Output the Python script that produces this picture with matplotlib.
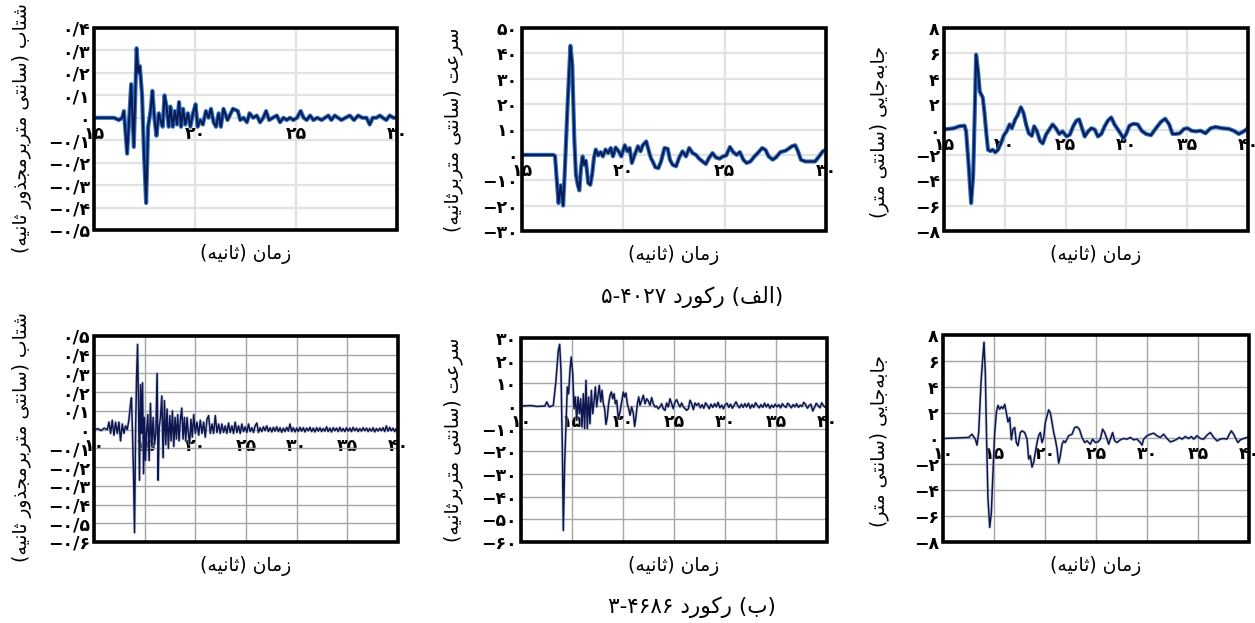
import matplotlib
matplotlib.use("Agg")
import matplotlib.pyplot as plt
from matplotlib.patches import Rectangle

# ---------------- data: (time [s], value) ----------------
acc_a = [(15.00, 0.00), (15.99, 0.00), (16.23, -0.01), (16.40, 0.00), (16.48, 0.03), (16.64, -0.16),
         (16.84, 0.15), (16.97, -0.13), (17.11, 0.31), (17.19, 0.20), (17.27, 0.23), (17.38, 0.10),
         (17.47, -0.15), (17.58, -0.38), (17.68, -0.04), (17.80, 0.03), (17.89, 0.12), (17.99, 0.00),
         (18.09, -0.08), (18.21, 0.02), (18.29, -0.01), (18.40, -0.04), (18.49, 0.10), (18.59, 0.05),
         (18.70, -0.04), (18.78, 0.05), (18.90, -0.04), (19.00, 0.03), (19.11, -0.03), (19.21, 0.07),
         (19.31, -0.04), (19.41, 0.04), (19.52, -0.03), (19.65, 0.02), (19.77, -0.04), (19.90, 0.02),
         (20.03, 0.06), (20.13, -0.04), (20.26, -0.01), (20.39, -0.03), (20.54, 0.03), (20.67, 0.00),
         (20.79, 0.04), (20.92, -0.02), (21.04, -0.04), (21.17, 0.02), (21.28, -0.04), (21.41, 0.04),
         (21.61, -0.01), (21.88, 0.04), (22.12, 0.03), (22.24, -0.01), (22.40, 0.00), (22.57, -0.02),
         (22.70, 0.02), (22.88, 0.00), (23.06, 0.01), (23.22, -0.02), (23.38, 0.00), (23.52, 0.03),
         (23.67, -0.01), (23.85, 0.00), (24.05, 0.01), (24.21, -0.02), (24.38, 0.00), (24.54, -0.01),
         (24.70, 0.00), (24.87, -0.01), (25.05, 0.00), (25.23, 0.03), (25.38, 0.00), (25.53, -0.01),
         (25.70, 0.01), (25.86, -0.01), (26.05, 0.00), (26.27, -0.01), (26.43, 0.00), (26.60, 0.01),
         (26.75, -0.01), (26.92, 0.01), (27.08, 0.00), (27.25, -0.01), (27.45, 0.00), (27.66, 0.01),
         (27.87, -0.01), (28.08, 0.01), (28.28, 0.00), (28.49, 0.00), (28.65, -0.03), (28.80, 0.00),
         (28.98, 0.00), (29.15, 0.01), (29.30, 0.00), (29.47, -0.01), (29.64, 0.01), (29.82, 0.00),
         (30.00, 0.00)]

vel_a = [(15.00, 0.0), (16.55, 0.0), (16.63, -0.5), (16.80, -19.0), (16.91, -12.0), (17.03, -20.0),
         (17.12, -5.0), (17.25, 20.0), (17.39, 43.0), (17.48, 35.5), (17.58, 6.6), (17.66, -7.8),
         (17.75, -11.8), (17.83, -14.0), (17.91, -5.2), (17.99, -0.6), (18.07, -3.9), (18.15, -2.3),
         (18.27, -11.1), (18.37, -11.8), (18.46, -7.8), (18.55, -1.2), (18.64, 2.1), (18.76, -0.2),
         (18.87, 1.1), (18.99, -0.6), (19.12, 2.1), (19.25, 0.7), (19.38, 2.7), (19.49, -0.6),
         (19.62, 2.9), (19.77, 1.4), (19.90, -0.6), (20.07, 3.8), (20.20, 1.4), (20.31, 2.7),
         (20.42, -3.2), (20.56, 0.0), (20.72, 3.4), (20.85, 1.4), (20.96, 3.8), (21.13, 5.3),
         (21.26, 1.4), (21.37, -1.5), (21.45, -2.6), (21.58, -4.9), (21.73, -5.2), (21.86, -2.6),
         (22.03, 2.7), (22.19, 2.4), (22.30, -1.9), (22.43, -3.9), (22.60, -4.5), (22.76, -1.0),
         (22.92, 1.4), (23.09, -0.6), (23.25, 2.7), (23.42, 0.7), (23.58, 0.0), (23.74, -1.5),
         (23.91, -2.6), (24.07, -3.6), (24.23, -1.2), (24.40, 0.7), (24.56, -1.0), (24.75, -1.5),
         (24.92, -0.6), (25.08, -0.2), (25.26, 3.1), (25.42, 1.1), (25.59, 0.0), (25.75, 1.1),
         (25.92, -1.9), (26.08, -3.2), (26.27, -2.6), (26.47, -0.6), (26.63, 0.7), (26.85, 2.7),
         (27.01, 2.0), (27.17, -0.6), (27.37, -1.9), (27.53, -1.0), (27.75, 1.1), (27.99, 1.6),
         (28.15, 2.4), (28.32, 3.4), (28.48, 3.8), (28.61, 1.6), (28.76, -1.9), (28.97, -2.6),
         (29.22, -2.6), (29.46, -2.6), (29.66, -0.6), (29.84, 1.4), (30.00, 2.0)]

disp_a = [(15.00, 0.00), (15.82, 0.10), (16.23, 0.25), (16.69, 0.30), (16.82, -0.15), (17.04, -3.00),
          (17.23, -5.80), (17.40, -3.60), (17.53, 1.40), (17.64, 5.90), (17.80, 4.60), (17.94, 3.00),
          (18.19, 2.50), (18.32, 1.40), (18.49, -0.40), (18.62, -1.60), (18.81, -1.70), (19.00, -1.60),
          (19.22, -1.80), (19.44, -1.60), (19.68, -1.10), (19.90, -0.50), (20.17, -0.10), (20.39, 0.40),
          (20.58, 0.10), (20.86, 0.80), (21.05, 1.10), (21.32, 1.75), (21.54, 1.30), (21.75, 0.40),
          (21.97, -0.30), (22.22, -0.50), (22.41, 0.25), (22.63, -0.10), (22.90, -0.90), (23.12, -1.10),
          (23.39, -0.40), (23.66, 0.00), (23.93, 0.40), (24.20, 0.10), (24.48, -0.35), (24.75, -0.15),
          (25.08, -0.55), (25.35, -0.40), (25.62, 0.25), (25.89, 0.70), (26.11, 0.80), (26.30, 0.25),
          (26.57, -0.55), (26.85, -0.15), (27.12, 0.10), (27.39, 0.00), (27.66, -0.55), (27.94, -0.35),
          (28.21, 0.25), (28.48, 0.70), (28.75, 0.95), (29.02, 0.40), (29.30, 0.00), (29.57, -0.40),
          (29.76, -0.70), (29.98, -0.35), (30.25, 0.30), (30.58, 0.45), (30.93, 0.40), (31.26, -0.10),
          (31.61, -0.35), (32.02, -0.45), (32.43, 0.10), (32.84, 0.60), (33.19, 0.85), (33.52, 0.40),
          (33.79, -0.35), (34.06, -0.35), (34.39, -0.30), (34.74, 0.05), (35.02, 0.10), (35.37, -0.10),
          (35.70, -0.15), (36.11, -0.10), (36.51, -0.30), (36.92, 0.10), (37.33, 0.20), (37.88, 0.10),
          (38.42, 0.05), (38.83, -0.10), (39.24, -0.35), (39.65, -0.15), (40.00, 0.10)]

acc_b = [(10.00, 0.000), (10.40, 0.005), (10.70, -0.005), (11.00, 0.008), (11.31, 0.000), (11.48, 0.040),
         (11.64, -0.020), (11.80, 0.050), (11.97, -0.030), (12.13, 0.040), (12.30, -0.020), (12.46, 0.040),
         (12.62, -0.060), (12.79, 0.030), (12.95, -0.020), (13.11, 0.020), (13.28, 0.000), (13.44, 0.050),
         (13.61, 0.140), (13.70, 0.170), (13.80, -0.020), (13.90, -0.240), (14.00, -0.550), (14.10, -0.020),
         (14.20, 0.280), (14.30, 0.455), (14.39, 0.150), (14.49, -0.270), (14.59, 0.240), (14.69, -0.020),
         (14.79, 0.250), (14.89, -0.235), (14.98, 0.065), (15.08, -0.165), (15.18, -0.020), (15.31, 0.080),
         (15.44, -0.165), (15.57, 0.140), (15.70, -0.090), (15.84, 0.065), (15.97, -0.080), (16.10, -0.020),
         (16.23, 0.300), (16.33, -0.270), (16.43, 0.010), (16.56, 0.065), (16.69, 0.180), (16.82, -0.150),
         (16.95, 0.155), (17.08, -0.080), (17.21, 0.110), (17.34, -0.100), (17.48, 0.075), (17.61, -0.060),
         (17.74, 0.100), (17.87, -0.090), (18.00, 0.065), (18.13, -0.050), (18.26, 0.080), (18.39, -0.060),
         (18.52, 0.050), (18.66, 0.115), (18.79, -0.050), (18.92, 0.065), (19.05, -0.060), (19.18, 0.065),
         (19.31, -0.020), (19.44, -0.075), (19.57, 0.055), (19.70, -0.040), (19.84, 0.080), (20.00, -0.020),
         (20.16, 0.040), (20.33, -0.030), (20.49, 0.050), (20.66, -0.020), (20.82, 0.040), (20.98, -0.040),
         (21.15, 0.055), (21.31, 0.075), (21.48, -0.020), (21.64, 0.030), (21.80, -0.020), (21.97, 0.075),
         (22.13, -0.015), (22.30, 0.030), (22.46, -0.020), (22.62, 0.030), (22.79, -0.015), (22.95, 0.020),
         (23.11, -0.020), (23.28, 0.035), (23.44, -0.015), (23.61, 0.020), (23.77, -0.020), (23.93, 0.040),
         (24.10, -0.015), (24.26, 0.020), (24.43, -0.020), (24.59, 0.030), (24.75, -0.010), (24.92, 0.015),
         (25.08, -0.015), (25.25, 0.030), (25.41, -0.010), (25.57, 0.010), (25.74, -0.015), (25.90, 0.020),
         (26.07, 0.035), (26.23, -0.015), (26.39, 0.010), (26.56, -0.010), (26.72, 0.015), (26.89, -0.005),
         (27.05, 0.020), (27.21, -0.010), (27.38, 0.010), (27.55, -0.012), (27.70, 0.012), (27.87, -0.008),
         (28.03, 0.015), (28.20, -0.010), (28.36, 0.010), (28.52, -0.014), (28.69, 0.008), (28.85, -0.010),
         (29.02, 0.012), (29.18, -0.008), (29.34, 0.030), (29.51, -0.010), (29.67, 0.010), (29.84, -0.012),
         (30.00, 0.008), (30.16, -0.010), (30.33, 0.012), (30.49, -0.008), (30.66, 0.010), (30.82, -0.012),
         (30.98, 0.008), (31.15, -0.006), (31.31, 0.012), (31.48, -0.010), (31.64, 0.008), (31.80, -0.012),
         (31.97, 0.010), (32.13, -0.008), (32.30, 0.010), (32.46, -0.010), (32.62, 0.006), (32.79, -0.008),
         (32.95, 0.015), (33.11, -0.010), (33.28, 0.008), (33.44, -0.012), (33.61, 0.010), (33.77, -0.006),
         (33.93, 0.008), (34.10, -0.010), (34.26, 0.012), (34.43, -0.008), (34.59, 0.006), (34.75, -0.010),
         (34.92, 0.010), (35.08, -0.008), (35.25, 0.008), (35.41, -0.010), (35.57, 0.012), (35.74, -0.006),
         (35.90, 0.008), (36.07, -0.010), (36.23, 0.006), (36.39, -0.008), (36.56, 0.010), (36.72, -0.006),
         (36.89, 0.008), (37.05, -0.010), (37.21, 0.006), (37.38, -0.008), (37.54, 0.010), (37.70, -0.012),
         (37.87, 0.006), (38.03, -0.008), (38.20, 0.008), (38.36, -0.006), (38.52, 0.010), (38.69, -0.010),
         (38.85, 0.020), (39.02, -0.008), (39.18, 0.012), (39.34, -0.006), (39.51, 0.008), (39.67, -0.010),
         (39.84, 0.006), (40.00, 0.000)]

vel_b = [(10.00, 0.0), (11.00, 0.2), (11.60, -0.2), (12.35, 0.0), (12.52, 1.8), (12.78, -0.4), (13.17, 0.3),
         (13.43, 11.3), (13.66, 24.6), (13.79, 27.2), (13.92, 15.7), (14.05, -18.0), (14.15, -54.9),
         (14.28, -25.4), (14.41, -7.8), (14.54, 8.4), (14.67, 5.4), (14.80, 15.7), (14.93, 21.6),
         (15.07, 14.3), (15.20, -1.2), (15.33, 4.0), (15.46, -6.3), (15.59, 4.0), (15.72, -3.4),
         (15.85, 3.2), (15.98, -9.3), (16.11, 5.4), (16.24, -10.0), (16.37, 11.3), (16.50, -10.0),
         (16.63, 4.0), (16.76, -7.8), (16.90, 6.9), (17.03, -3.4), (17.16, 1.8), (17.29, 8.4),
         (17.42, -0.4), (17.55, 4.7), (17.68, 9.1), (17.81, 1.8), (17.94, 6.9), (18.07, 1.0),
         (18.20, -1.2), (18.33, -8.1), (18.46, -4.9), (18.59, 1.0), (18.73, 4.7), (18.86, 6.2),
         (18.99, 3.2), (19.12, 5.4), (19.25, 1.0), (19.38, 2.5), (19.54, -5.6), (19.71, -2.6),
         (19.87, 1.8), (20.03, 6.2), (20.16, 4.0), (20.29, 5.7), (20.42, 1.0), (20.56, -1.2),
         (20.69, -4.1), (20.85, -0.4), (21.01, -3.1), (21.14, -9.0), (21.27, -4.9), (21.41, 1.0),
         (21.54, 4.0), (21.67, 0.3), (21.83, 2.5), (21.99, 4.7), (22.16, 1.0), (22.32, 3.2),
         (22.48, 2.2), (22.65, 0.3), (22.81, 3.7), (22.97, 1.0), (23.14, -0.4), (23.30, -0.1),
         (23.46, -1.2), (23.63, -0.4), (23.79, 1.0), (23.95, -1.2), (24.12, -1.9), (24.28, 1.3),
         (24.44, -0.4), (24.61, 3.2), (24.77, 1.0), (24.93, -1.2), (25.10, 1.8), (25.26, 2.8),
         (25.42, 1.0), (25.59, -0.4), (25.75, 1.3), (25.92, -0.4), (26.08, -1.2), (26.24, -1.9),
         (26.41, -1.2), (26.57, 2.5), (26.73, 1.0), (26.90, -1.6), (27.06, 1.3), (27.22, 0.3),
         (27.40, 1.2), (27.58, -0.8), (27.75, 0.6), (27.92, -1.0), (28.10, 1.4), (28.28, 0.2),
         (28.45, -1.2), (28.62, 0.8), (28.80, -0.6), (28.98, 1.0), (29.15, -0.4), (29.32, 1.6),
         (29.50, -0.8), (29.68, 0.4), (29.85, -1.2), (30.02, 0.6), (30.20, 1.2), (30.38, -0.6),
         (30.55, 0.8), (30.72, -1.0), (30.90, 0.4), (31.08, 1.8), (31.25, 0.2), (31.42, -0.8),
         (31.60, 0.8), (31.78, -0.6), (31.95, 1.0), (32.12, -0.4), (32.30, 1.2), (32.48, -1.0),
         (32.65, 0.6), (32.82, -0.6), (33.00, 1.4), (33.18, 0.2), (33.35, -0.8), (33.52, 0.6),
         (33.70, -0.6), (33.88, 1.2), (34.05, -0.4), (34.22, 0.8), (34.40, -1.0), (34.58, 0.4),
         (34.75, -0.6), (34.92, 0.8), (35.10, -0.4), (35.28, 0.6), (35.45, -0.8), (35.62, 1.0),
         (35.80, 0.0), (35.98, -0.6), (36.15, 1.2), (36.32, 0.4), (36.50, -0.8), (36.68, 0.6),
         (36.85, -0.4), (37.02, 1.0), (37.20, -0.6), (37.38, 0.4), (37.55, -0.2), (37.72, 1.6),
         (37.90, 0.6), (38.08, -1.0), (38.25, 0.2), (38.42, 0.8), (38.60, -2.2), (38.78, -0.6),
         (38.95, 1.2), (39.12, 0.2), (39.30, -0.8), (39.48, 1.4), (39.65, 0.2), (39.82, -0.6),
         (40.00, -0.4)]

disp_b = [(10.00, 0.00), (12.52, 0.08), (12.84, 0.33), (13.17, -0.05), (13.33, -0.51), (13.50, 0.46),
          (13.73, 4.36), (13.89, 6.15), (14.02, 7.44), (14.15, 5.08), (14.28, -0.31), (14.41, -4.67),
          (14.58, -6.87), (14.74, -5.72), (14.90, -2.62), (15.07, 0.46), (15.23, 2.00), (15.39, 2.56),
          (15.56, 2.26), (15.72, 2.46), (15.88, 2.31), (16.05, 2.64), (16.21, 2.00), (16.37, 1.28),
          (16.54, 1.62), (16.70, -0.10), (16.86, 0.72), (17.03, 0.85), (17.19, -0.31), (17.35, -0.56),
          (17.58, 0.46), (17.75, 0.59), (18.01, 0.46), (18.24, -0.05), (18.40, -1.59), (18.56, -1.33),
          (18.73, -2.21), (18.89, -1.85), (19.05, -1.08), (19.22, -0.31), (19.38, 0.21), (19.54, 0.46),
          (19.71, -0.31), (19.87, 0.08), (20.03, 1.23), (20.20, 1.74), (20.36, 2.21), (20.52, 2.00),
          (20.69, 1.23), (20.85, 0.46), (21.01, -0.05), (21.18, -0.82), (21.34, -1.90), (21.50, -1.33),
          (21.67, -0.44), (21.83, -0.18), (21.99, -0.31), (22.16, -0.05), (22.32, 0.21), (22.65, 0.33),
          (22.91, 0.85), (23.14, 0.90), (23.37, 0.72), (23.63, 0.08), (23.89, -0.31), (24.12, -0.18),
          (24.44, -0.44), (24.67, -0.05), (24.93, -0.31), (25.20, -0.26), (25.42, -0.05), (25.65, 0.72),
          (25.85, 0.46), (26.08, -0.05), (26.24, -0.44), (26.41, -0.05), (26.63, 0.46), (26.83, -0.18),
          (27.06, -0.31), (27.39, -0.10), (27.71, 0.00), (28.04, -0.05), (28.37, 0.08), (28.69, -0.10),
          (29.02, -0.05), (29.35, -0.31), (29.51, -0.51), (29.67, -0.05), (30.00, 0.21), (30.33, 0.33),
          (30.65, 0.41), (30.98, 0.21), (31.31, 0.08), (31.63, 0.33), (31.96, 0.00), (32.29, -0.26),
          (32.61, -0.18), (32.94, -0.05), (33.17, 0.08), (33.43, -0.05), (33.76, 0.15), (34.08, 0.00),
          (34.35, 0.15), (34.58, -0.05), (34.90, 0.21), (35.23, 0.00), (35.56, -0.05), (35.88, 0.26),
          (36.21, 0.46), (36.54, 0.08), (36.86, -0.18), (37.19, -0.05), (37.52, 0.00), (37.84, -0.05),
          (38.07, 0.33), (38.27, 0.59), (38.50, 0.33), (38.73, -0.05), (38.92, -0.31), (39.15, -0.10),
          (39.48, 0.00), (39.80, 0.08), (40.00, 0.08)]

# axis ticks
yt_acc_a = [0.4, 0.3, 0.2, 0.1, 0.0, -0.1, -0.2, -0.3, -0.4, -0.5]
yt_vel_a = [50, 40, 30, 20, 10, 0, -10, -20, -30]
yt_disp = [8, 6, 4, 2, 0, -2, -4, -6, -8]
yt_acc_b = [0.5, 0.4, 0.3, 0.2, 0.1, 0.0, -0.1, -0.2, -0.3, -0.4, -0.5, -0.6]
yt_vel_b = [30, 20, 10, 0, -10, -20, -30, -40, -50, -60]
xt_15_30 = [15, 20, 25, 30]
xt_15_40 = [15, 20, 25, 30, 35, 40]
xt_10_40 = [10, 15, 20, 25, 30, 35, 40]

ylab_acc = "شتاب (سانتی متربرمجذور ثانیه)"
ylab_vel = "سرعت (سانتی متربرثانیه)"
ylab_disp = "جابه\u200cجایی (سانتی متر)"
xlab = "زمان (ثانیه)"
caption_a = "(الف) رکورد ۵-۴۰۲۷"
caption_b = "(ب) رکورد ۳-۴۶۸۶"

# ---------------- Persian text helpers ----------------
_DUAL = {'ب': 0xFE8F, 'ت': 0xFE95, 'ث': 0xFE99, 'ج': 0xFE9D, 'س': 0xFEB1, 'ش': 0xFEB5,
         'ع': 0xFEC9, 'ف': 0xFED1, 'ل': 0xFEDD, 'م': 0xFEE1, 'ن': 0xFEE5, 'ه': 0xFEE9,
         'ک': 0xFB8E, 'ی': 0xFBFC}
_RIGHT = {'ا': 0xFE8D, 'د': 0xFEA9, 'ذ': 0xFEAB, 'ر': 0xFEAD, 'ز': 0xFEAF, 'و': 0xFEED}
_LTR = set('0123456789۰۱۲۳۴۵۶۷۸۹-/')
_MIRROR = {'(': ')', ')': '('}


def shape(s):
    out = []
    for i, c in enumerate(s):
        if c in _DUAL or c in _RIGHT:
            prev = s[i - 1] if i > 0 else ''
            nxt = s[i + 1] if i + 1 < len(s) else ''
            jp = prev in _DUAL
            jn = c in _DUAL and (nxt in _DUAL or nxt in _RIGHT)
            base = _DUAL.get(c, _RIGHT.get(c))
            off = 3 if (jp and jn) else 1 if jp else 2 if jn else 0
            out.append(chr(base + off))
        elif c == '\u200c':
            continue
        else:
            out.append(c)
    return ''.join(out)


def rtl(s):
    s = shape(s)
    runs = []
    for c in s:
        kind = c in _LTR
        if runs and runs[-1][0] == kind:
            runs[-1][1].append(c)
        else:
            runs.append([kind, [c]])
    parts = []
    for kind, chars in reversed(runs):
        if kind:
            parts.append(''.join(chars))
        else:
            parts.append(''.join(_MIRROR.get(c, c) for c in reversed(chars)))
    return ''.join(parts)


_FA = str.maketrans('0123456789.-', '۰۱۲۳۴۵۶۷۸۹/−')


def fa_num(v, dec=0):
    if v == 0:
        return '۰'
    return (f"{v:.{dec}f}").translate(_FA)


# ---------------- figure ----------------
W, H = 1255, 623
plt.rcParams['font.family'] = ['DejaVu Sans']
fig = plt.figure(figsize=(W / 100, H / 100), dpi=100)
fig.patch.set_facecolor('white')


def panel(box, series, xlim, ylim, xt, yt, dec, top_row, ylabel, ylab_xy):
    l, t, r, b = box
    ax = fig.add_axes([l / W, 1 - b / H, (r - l) / W, (b - t) / H])
    ts = [p[0] for p in series]
    vs = [p[1] for p in series]
    if top_row:
        ax.plot(ts, vs, color='#2f6fc4', lw=3.0, solid_joinstyle='round', zorder=3)
        ax.plot(ts, vs, color='#0b1a4e', lw=1.4, solid_joinstyle='round', zorder=4)
        gcol, glw = '#e2e2e2', 1.6
    else:
        ax.plot(ts, vs, color='#b8bcc8', lw=2.2, alpha=0.6, zorder=3)
        ax.plot(ts, vs, color='#0c1650', lw=1.1, zorder=4)
        gcol, glw = '#a6a6a6', 1.0
    ax.set_xlim(*xlim)
    ax.set_ylim(*ylim)
    ax.set_xticks(xt)
    ax.set_xticklabels([fa_num(v) for v in xt])
    ax.set_yticks(yt)
    ax.set_yticklabels([fa_num(v, dec) for v in yt])
    ax.spines['bottom'].set_position(('data', 0))
    for s in ax.spines.values():
        s.set_visible(False)
    ax.tick_params(axis='both', length=0, labelsize=12.5)
    ax.tick_params(axis='x', pad=5)
    ax.tick_params(axis='y', pad=3)
    for lab in ax.get_xticklabels() + ax.get_yticklabels():
        lab.set_fontweight('bold')
    ax.set_axisbelow(True)
    ax.grid(True, color=gcol, lw=glw)
    ax.add_patch(Rectangle((0, 0), 1, 1, transform=ax.transAxes, fill=False,
                           lw=2.6, ec='black', zorder=6, clip_on=False))
    # axis captions
    ax.text(0.5, 1 - (b + 24 - t) / (b - t), rtl(xlab), transform=ax.transAxes,
            ha='center', va='center', fontsize=13.5)
    fig.text(ylab_xy[0] / W, 1 - ylab_xy[1] / H, rtl(ylabel), rotation=90,
             ha='center', va='center', fontsize=13.5)
    return ax


panel((94, 28, 397, 230), acc_a, (15, 30), (-0.5, 0.4), xt_15_30, yt_acc_a, 1, True,
      ylab_acc, (22, 128))
panel((522, 28, 826, 231), vel_a, (15, 30), (-30, 50), xt_15_30, yt_vel_a, 0, True,
      ylab_vel, (453, 130))
panel((944, 28, 1248, 231), disp_a, (15, 40), (-8, 8), xt_15_40, yt_disp, 0, True,
      ylab_disp, (879, 132))
panel((94, 336, 398, 542), acc_b, (10, 40), (-0.6, 0.5), xt_10_40, yt_acc_b, 1, False,
      ylab_acc, (22, 437))
panel((521, 338, 827, 542), vel_b, (10, 40), (-60, 30), xt_10_40, yt_vel_b, 0, False,
      ylab_vel, (453, 440))
panel((943, 335, 1249, 542), disp_b, (10, 40), (-8, 8), xt_10_40, yt_disp, 0, False,
      ylab_disp, (879, 441))

fig.text(692 / W, 1 - 297 / H, rtl(caption_a), ha='center', va='center', fontsize=15.5)
fig.text(692 / W, 1 - 607 / H, rtl(caption_b), ha='center', va='center', fontsize=15.5)

fig.savefig('out.png', dpi=100, facecolor='white')
